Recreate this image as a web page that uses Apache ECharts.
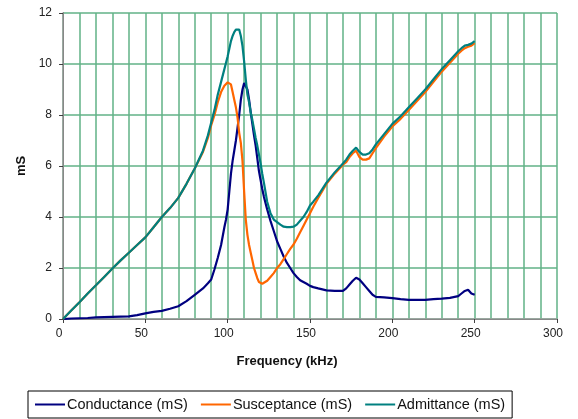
<!DOCTYPE html>
<html>
<head>
<meta charset="utf-8">
<script src="https://cdn.jsdelivr.net/npm/echarts@6/dist/echarts.min.js"></script>
<style>
html,body{margin:0;padding:0;background:#fff;}
#chart{width:578px;height:419px;}
</style>
</head>
<body>
<div id="chart"></div>
<script>
// Frequency (kHz)
const freq = [0,5,10,15,20,25,30,35,40,45,50,55,60,65,70,75,80,85,88,90,92,94,96,98,99,100,101,102,103,104,105,106,107,108,109,110,111,112,113,114,115,116,117,118,119,120,121,122,124,126,128,130,132,134,136,138,140,142,144,146,148,150,152,155,160,165,170,172,174,176,178,179,180,182,184,186,188,190,195,200,205,210,215,220,225,230,235,240,242,244,246,248,250];
// Admittance (mS)
const admittance = [0,0.33,0.66,1.0,1.32,1.65,1.98,2.3,2.6,2.9,3.2,3.6,4.0,4.35,4.75,5.3,5.9,6.6,7.2,7.7,8.2,8.8,9.3,9.8,10.05,10.3,10.6,10.9,11.1,11.25,11.35,11.4,11.35,11.1,10.7,10.1,9.4,8.8,8.5,8.1,7.8,7.45,7.1,6.8,6.45,6.1,5.7,5.35,4.6,4.15,3.9,3.8,3.7,3.62,3.6,3.6,3.62,3.7,3.85,4.0,4.2,4.45,4.6,4.85,5.35,5.75,6.1,6.25,6.45,6.6,6.72,6.75,6.55,6.45,6.45,6.5,6.65,6.85,7.25,7.65,7.95,8.3,8.65,9.0,9.4,9.8,10.15,10.5,10.62,10.72,10.75,10.8,10.9];
// Susceptance (mS)
const susceptance = [0,0.33,0.66,1.0,1.32,1.65,1.98,2.3,2.6,2.9,3.2,3.6,4.0,4.35,4.75,5.3,5.9,6.55,7.1,7.6,8.0,8.5,8.9,9.15,9.2,9.28,9.3,9.2,8.9,8.6,8.3,7.9,7.3,6.9,6.2,5.0,3.9,3.3,2.9,2.6,2.3,2.0,1.8,1.6,1.45,1.38,1.38,1.4,1.5,1.65,1.8,2.0,2.15,2.35,2.55,2.75,2.92,3.15,3.4,3.65,3.9,4.15,4.4,4.75,5.3,5.7,6.05,6.15,6.35,6.5,6.6,6.6,6.35,6.25,6.25,6.3,6.5,6.7,7.15,7.55,7.85,8.2,8.55,8.9,9.3,9.7,10.05,10.4,10.52,10.62,10.68,10.72,10.82];
// Conductance (mS)
const conductance = [0,0.02,0.03,0.04,0.06,0.07,0.08,0.09,0.1,0.15,0.22,0.28,0.32,0.4,0.5,0.7,0.95,1.2,1.4,1.55,1.95,2.4,2.9,3.6,3.9,4.3,5.0,5.7,6.2,6.6,7.0,7.5,8.0,8.6,9.0,9.25,9.3,9.0,8.6,8.1,7.65,7.2,6.8,6.3,5.8,5.45,5.1,4.8,4.3,3.85,3.45,3.05,2.75,2.45,2.2,2.0,1.8,1.65,1.52,1.45,1.38,1.3,1.25,1.2,1.12,1.1,1.1,1.2,1.35,1.5,1.62,1.65,1.55,1.4,1.25,1.1,0.95,0.87,0.85,0.82,0.78,0.75,0.75,0.75,0.78,0.8,0.83,0.9,1.0,1.1,1.15,1.0,0.95];
// Tick values
const xTicks = [0,50,100,150,200,250,300];
const yTicks = [0,2,4,6,8,10,12];
const seriesNames = ['Conductance (mS)','Susceptance (mS)','Admittance (mS)'];

const gridGreen = '#62b287';
const font = '"Liberation Sans", Arial, sans-serif';

const chart = echarts.init(document.getElementById('chart'), null, {renderer:'canvas'});
const pairs = arr => freq.map((f,i)=>[f, arr[i]]);

chart.setOption({
  animation:false,
  backgroundColor:'#fff',
  grid:{left:63, right:21, top:13, bottom:100, containLabel:false},
  legend:{
    left:28, top:391,
    data:seriesNames,
    icon:'rect', itemWidth:30, itemHeight:2, itemGap:13,
    borderColor:'#000', borderWidth:1, padding:[6,7,6,7],
    textStyle:{fontFamily:font, fontSize:14.5, color:'#111', padding:[0,0,0,-3]}
  },
  xAxis:[{
    type:'value', min:xTicks[0], max:xTicks[xTicks.length-1], interval:50,
    name:'Frequency (kHz)', nameLocation:'middle', nameGap:36,
    nameTextStyle:{fontFamily:font, fontSize:13, fontWeight:'bold', color:'#111', padding:[0,46,0,0]},
    axisLine:{show:true, lineStyle:{color:'#404040', width:1}},
    axisTick:{show:true, length:4, lineStyle:{color:'#404040'}},
    axisLabel:{fontFamily:font, fontSize:12, color:'#222', margin:9, padding:[0,8,0,0]},
    splitLine:{show:true, lineStyle:{color:gridGreen, width:1.5}},
    minorTick:{show:false, splitNumber:5},
    minorSplitLine:{show:true, lineStyle:{color:gridGreen, width:1.5}}
  },{
    type:'value', position:'top', min:0, max:300,
    axisLine:{show:true, lineStyle:{color:'#a0a0a0', width:1.5}},
    axisTick:{show:false}, axisLabel:{show:false}, splitLine:{show:false}
  }],
  yAxis:[{
    type:'value', min:yTicks[0], max:yTicks[yTicks.length-1], interval:2,
    name:'mS', nameLocation:'middle', nameGap:34, nameRotate:90,
    nameTextStyle:{fontFamily:font, fontSize:13, fontWeight:'bold', color:'#111'},
    axisLine:{show:true, lineStyle:{color:'#404040', width:1}},
    axisTick:{show:true, length:4, lineStyle:{color:'#404040'}},
    axisLabel:{fontFamily:font, fontSize:12, color:'#222', margin:11},
    splitLine:{show:true, lineStyle:{color:gridGreen, width:1.5}}
  },{
    type:'value', position:'right', min:0, max:12,
    axisLine:{show:true, lineStyle:{color:'#a0a0a0', width:1.5}},
    axisTick:{show:false}, axisLabel:{show:false}, splitLine:{show:false}
  }],
  series:[
    {name:seriesNames[0], type:'line', data:pairs(conductance), symbol:'none', lineStyle:{color:'#000080', width:2.2}, itemStyle:{color:'#000080'}},
    {name:seriesNames[1], type:'line', data:pairs(susceptance), symbol:'none', lineStyle:{color:'#ff6600', width:2.2}, itemStyle:{color:'#ff6600'}},
    {name:seriesNames[2], type:'line', data:pairs(admittance), symbol:'none', lineStyle:{color:'#008080', width:2.2}, itemStyle:{color:'#008080'}}
  ]
});
</script>
</body>
</html>
